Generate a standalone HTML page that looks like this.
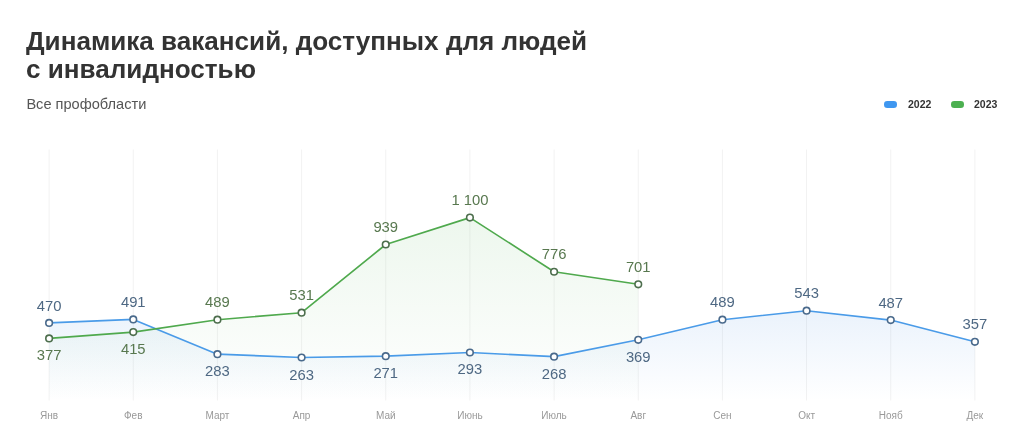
<!DOCTYPE html>
<html lang="ru"><head><meta charset="utf-8"><title>Динамика вакансий</title>
<style>
html,body{margin:0;padding:0;background:#fff;}
body{width:1024px;height:446px;position:relative;overflow:hidden;font-family:"Liberation Sans",Arial,sans-serif;}
.title{position:absolute;left:26px;top:26.5px;font-size:26.1px;line-height:28.6px;font-weight:bold;color:#333;white-space:nowrap;letter-spacing:0;}
.sub{position:absolute;left:26.4px;top:95.6px;font-size:14.6px;line-height:17px;color:#555;white-space:nowrap;}
.lg{position:absolute;top:97px;font-size:10.5px;line-height:14px;font-weight:bold;color:#333;white-space:nowrap;}
.pill{position:absolute;top:101px;width:13px;height:6.5px;border-radius:3.25px;}
</style></head><body>
<svg width="1024" height="446" viewBox="0 0 1024 446" style="position:absolute;left:0;top:0">
<defs>
<linearGradient id="gb" gradientUnits="userSpaceOnUse" x1="0" y1="305" x2="0" y2="401"><stop offset="0" stop-color="#4a90e2" stop-opacity="0.12"/><stop offset="1" stop-color="#4a90e2" stop-opacity="0"/></linearGradient>
<linearGradient id="gg" gradientUnits="userSpaceOnUse" x1="0" y1="217" x2="0" y2="401"><stop offset="0" stop-color="#4caf50" stop-opacity="0.10"/><stop offset="1" stop-color="#4caf50" stop-opacity="0"/></linearGradient>
</defs>
<line x1="49.10" y1="149.5" x2="49.10" y2="400.5" stroke="#f2f2f2" stroke-width="1"/>
<line x1="133.26" y1="149.5" x2="133.26" y2="400.5" stroke="#f2f2f2" stroke-width="1"/>
<line x1="217.43" y1="149.5" x2="217.43" y2="400.5" stroke="#f2f2f2" stroke-width="1"/>
<line x1="301.59" y1="149.5" x2="301.59" y2="400.5" stroke="#f2f2f2" stroke-width="1"/>
<line x1="385.75" y1="149.5" x2="385.75" y2="400.5" stroke="#f2f2f2" stroke-width="1"/>
<line x1="469.92" y1="149.5" x2="469.92" y2="400.5" stroke="#f2f2f2" stroke-width="1"/>
<line x1="554.08" y1="149.5" x2="554.08" y2="400.5" stroke="#f2f2f2" stroke-width="1"/>
<line x1="638.25" y1="149.5" x2="638.25" y2="400.5" stroke="#f2f2f2" stroke-width="1"/>
<line x1="722.41" y1="149.5" x2="722.41" y2="400.5" stroke="#f2f2f2" stroke-width="1"/>
<line x1="806.57" y1="149.5" x2="806.57" y2="400.5" stroke="#f2f2f2" stroke-width="1"/>
<line x1="890.74" y1="149.5" x2="890.74" y2="400.5" stroke="#f2f2f2" stroke-width="1"/>
<line x1="974.90" y1="149.5" x2="974.90" y2="400.5" stroke="#f2f2f2" stroke-width="1"/>
<polygon points="49.10,401.46 49.10,322.90 133.26,319.39 217.43,354.16 301.59,357.50 385.75,356.16 469.92,352.49 554.08,356.66 638.25,339.78 722.41,319.72 806.57,310.70 890.74,320.06 974.90,341.79 974.90,401.46" fill="url(#gb)"/>
<polygon points="49.10,401.46 49.10,338.44 133.26,332.09 217.43,319.72 301.59,312.70 385.75,244.51 469.92,217.59 554.08,271.75 638.25,284.29 638.25,401.46" fill="url(#gg)"/>
<polyline points="49.10,322.90 133.26,319.39 217.43,354.16 301.59,357.50 385.75,356.16 469.92,352.49 554.08,356.66 638.25,339.78 722.41,319.72 806.57,310.70 890.74,320.06 974.90,341.79" fill="none" stroke="#4a9be8" stroke-width="1.65" stroke-linejoin="round"/>
<polyline points="49.10,338.44 133.26,332.09 217.43,319.72 301.59,312.70 385.75,244.51 469.92,217.59 554.08,271.75 638.25,284.29" fill="none" stroke="#4fa94d" stroke-width="1.65" stroke-linejoin="round"/>
<circle cx="49.10" cy="322.90" r="3.3" fill="#fff" stroke="#4a6a8c" stroke-width="1.6"/>
<circle cx="133.26" cy="319.39" r="3.3" fill="#fff" stroke="#4a6a8c" stroke-width="1.6"/>
<circle cx="217.43" cy="354.16" r="3.3" fill="#fff" stroke="#4a6a8c" stroke-width="1.6"/>
<circle cx="301.59" cy="357.50" r="3.3" fill="#fff" stroke="#4a6a8c" stroke-width="1.6"/>
<circle cx="385.75" cy="356.16" r="3.3" fill="#fff" stroke="#4a6a8c" stroke-width="1.6"/>
<circle cx="469.92" cy="352.49" r="3.3" fill="#fff" stroke="#4a6a8c" stroke-width="1.6"/>
<circle cx="554.08" cy="356.66" r="3.3" fill="#fff" stroke="#4a6a8c" stroke-width="1.6"/>
<circle cx="638.25" cy="339.78" r="3.3" fill="#fff" stroke="#4a6a8c" stroke-width="1.6"/>
<circle cx="722.41" cy="319.72" r="3.3" fill="#fff" stroke="#4a6a8c" stroke-width="1.6"/>
<circle cx="806.57" cy="310.70" r="3.3" fill="#fff" stroke="#4a6a8c" stroke-width="1.6"/>
<circle cx="890.74" cy="320.06" r="3.3" fill="#fff" stroke="#4a6a8c" stroke-width="1.6"/>
<circle cx="974.90" cy="341.79" r="3.3" fill="#fff" stroke="#4a6a8c" stroke-width="1.6"/>
<circle cx="49.10" cy="338.44" r="3.3" fill="#fff" stroke="#4d6e4d" stroke-width="1.6"/>
<circle cx="133.26" cy="332.09" r="3.3" fill="#fff" stroke="#4d6e4d" stroke-width="1.6"/>
<circle cx="217.43" cy="319.72" r="3.3" fill="#fff" stroke="#4d6e4d" stroke-width="1.6"/>
<circle cx="301.59" cy="312.70" r="3.3" fill="#fff" stroke="#4d6e4d" stroke-width="1.6"/>
<circle cx="385.75" cy="244.51" r="3.3" fill="#fff" stroke="#4d6e4d" stroke-width="1.6"/>
<circle cx="469.92" cy="217.59" r="3.3" fill="#fff" stroke="#4d6e4d" stroke-width="1.6"/>
<circle cx="554.08" cy="271.75" r="3.3" fill="#fff" stroke="#4d6e4d" stroke-width="1.6"/>
<circle cx="638.25" cy="284.29" r="3.3" fill="#fff" stroke="#4d6e4d" stroke-width="1.6"/>
<g font-family="Liberation Sans, Arial, sans-serif" font-size="14.8" text-anchor="middle">
<text x="49.10" y="310.50" fill="#4e6883">470</text>
<text x="133.26" y="306.99" fill="#4e6883">491</text>
<text x="217.43" y="376.16" fill="#4e6883">283</text>
<text x="301.59" y="379.50" fill="#4e6883">263</text>
<text x="385.75" y="378.16" fill="#4e6883">271</text>
<text x="469.92" y="374.49" fill="#4e6883">293</text>
<text x="554.08" y="378.66" fill="#4e6883">268</text>
<text x="638.25" y="361.78" fill="#4e6883">369</text>
<text x="722.41" y="307.32" fill="#4e6883">489</text>
<text x="806.57" y="298.30" fill="#4e6883">543</text>
<text x="890.74" y="307.66" fill="#4e6883">487</text>
<text x="974.90" y="329.39" fill="#4e6883">357</text>
<text x="49.10" y="360.44" fill="#58784f">377</text>
<text x="133.26" y="354.09" fill="#58784f">415</text>
<text x="217.43" y="307.32" fill="#58784f">489</text>
<text x="301.59" y="300.30" fill="#58784f">531</text>
<text x="385.75" y="232.11" fill="#58784f">939</text>
<text x="469.92" y="205.19" fill="#58784f">1 100</text>
<text x="554.08" y="259.35" fill="#58784f">776</text>
<text x="638.25" y="271.89" fill="#58784f">701</text>
</g>
<g font-family="Liberation Sans, Arial, sans-serif" font-size="10" text-anchor="middle" fill="#999999">
<text x="49.10" y="418.8">Янв</text>
<text x="133.26" y="418.8">Фев</text>
<text x="217.43" y="418.8">Март</text>
<text x="301.59" y="418.8">Апр</text>
<text x="385.75" y="418.8">Май</text>
<text x="469.92" y="418.8">Июнь</text>
<text x="554.08" y="418.8">Июль</text>
<text x="638.25" y="418.8">Авг</text>
<text x="722.41" y="418.8">Сен</text>
<text x="806.57" y="418.8">Окт</text>
<text x="890.74" y="418.8">Нояб</text>
<text x="974.90" y="418.8">Дек</text>
</g>
</svg>
<div class="title">Динамика вакансий, доступных для людей<br>с инвалидностью</div>
<div class="sub">Все профобласти</div>
<div class="pill" style="left:884px;background:#3f97f0"></div><div class="lg" style="left:908px">2022</div>
<div class="pill" style="left:951px;background:#4cb050"></div><div class="lg" style="left:974px">2023</div>
</body></html>
